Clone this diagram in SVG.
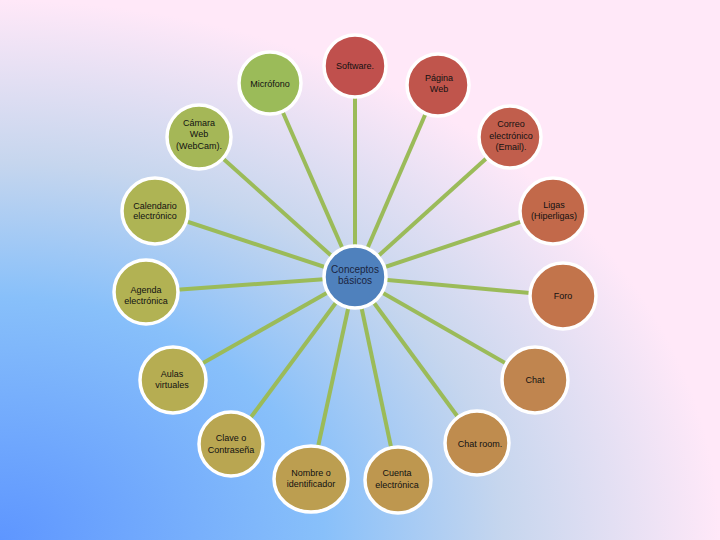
<svg xmlns="http://www.w3.org/2000/svg" width="720" height="540" viewBox="0 0 720 540">
<defs>
<radialGradient id="bg" cx="0" cy="1" r="1" fx="0" fy="1" gradientUnits="objectBoundingBox">
<stop offset="0" stop-color="#5E96FF"/>
<stop offset="0.45" stop-color="#88C0FA"/>
<stop offset="0.7" stop-color="#C6D6EE"/>
<stop offset="1" stop-color="#FFE8F8"/>
</radialGradient>
</defs>
<style>
.n{stroke:#FFFFFF;stroke-width:3.5}
.t{font-family:"Liberation Sans Narrow","Liberation Sans",Arial,sans-serif;font-size:9px;fill:#111;text-anchor:middle}
.c{font-family:"Liberation Sans",Arial,sans-serif;font-size:10px;fill:#1A2440;text-anchor:middle}
.e{stroke:#9BBB59;stroke-width:4;fill:none}
</style>
<rect x="0" y="0" width="720" height="540" fill="url(#bg)"/>
<g id="connectors">
<line class="e" x1="355" y1="277" x2="355" y2="66"/>
<line class="e" x1="355" y1="277" x2="438" y2="85"/>
<line class="e" x1="355" y1="277" x2="510" y2="137"/>
<line class="e" x1="355" y1="277" x2="553" y2="211"/>
<line class="e" x1="355" y1="277" x2="563" y2="296"/>
<line class="e" x1="355" y1="277" x2="535" y2="380"/>
<line class="e" x1="355" y1="277" x2="477" y2="443"/>
<line class="e" x1="355" y1="277" x2="398" y2="480"/>
<line class="e" x1="355" y1="277" x2="311" y2="479"/>
<line class="e" x1="355" y1="277" x2="231" y2="444"/>
<line class="e" x1="355" y1="277" x2="173" y2="380"/>
<line class="e" x1="355" y1="277" x2="146" y2="292"/>
<line class="e" x1="355" y1="277" x2="155" y2="211"/>
<line class="e" x1="355" y1="277" x2="199" y2="137"/>
<line class="e" x1="355" y1="277" x2="270" y2="83"/>
</g>
<g id="n-centro"><circle class="n" cx="355" cy="277" r="31" fill="#4F81BD"/><text class="c" x="355" y="273">Conceptos</text><text class="c" x="355" y="284">básicos</text></g>
<g id="n-software"><circle class="n" cx="355" cy="66" r="31" fill="#C0504D"/><text class="t" x="355" y="69">Software.</text></g>
<g id="n-pagina"><circle class="n" cx="438" cy="85" r="31" fill="#C0554C"/><text class="t" x="439" y="81">Página</text><text class="t" x="439" y="92">Web</text></g>
<g id="n-correo"><circle class="n" cx="510" cy="137" r="31" fill="#C15E4C"/><text class="t" x="511" y="127">Correo</text><text class="t" x="511" y="139">electrónico</text><text class="t" x="511" y="150">(Email).</text></g>
<g id="n-ligas"><circle class="n" cx="553" cy="211" r="33" fill="#C2694A"/><text class="t" x="554" y="208">Ligas</text><text class="t" x="554" y="219">(Hiperligas)</text></g>
<g id="n-foro"><circle class="n" cx="563" cy="296" r="33" fill="#C2744B"/><text class="t" x="563" y="299">Foro</text></g>
<g id="n-chat"><circle class="n" cx="535" cy="380" r="33" fill="#C0854F"/><text class="t" x="535" y="383">Chat</text></g>
<g id="n-chatroom"><circle class="n" cx="477" cy="443" r="32" fill="#BF8C4E"/><text class="t" x="480" y="447">Chat room.</text></g>
<g id="n-cuenta"><circle class="n" cx="398" cy="480" r="33" fill="#BE974F"/><text class="t" x="397" y="476">Cuenta</text><text class="t" x="397" y="488">electrónica</text></g>
<g id="n-nombre"><ellipse class="n" cx="311" cy="479" rx="37" ry="33" fill="#BC9E50"/><text class="t" x="311" y="476">Nombre o</text><text class="t" x="311" y="487">identificador</text></g>
<g id="n-clave"><circle class="n" cx="231" cy="444" r="32" fill="#B9A651"/><text class="t" x="231" y="441">Clave o</text><text class="t" x="231" y="453">Contraseña</text></g>
<g id="n-aulas"><circle class="n" cx="173" cy="380" r="33" fill="#B6AD52"/><text class="t" x="172" y="377">Aulas</text><text class="t" x="172" y="388">virtuales</text></g>
<g id="n-agenda"><circle class="n" cx="146" cy="292" r="32" fill="#B2B253"/><text class="t" x="146" y="293">Agenda</text><text class="t" x="146" y="304">electrónica</text></g>
<g id="n-calendario"><circle class="n" cx="155" cy="211" r="33" fill="#AEB454"/><text class="t" x="155" y="209">Calendario</text><text class="t" x="155" y="219">electrónico</text></g>
<g id="n-camara"><circle class="n" cx="199" cy="137" r="32" fill="#A5B757"/><text class="t" x="199" y="126">Cámara</text><text class="t" x="199" y="137">Web</text><text class="t" x="199" y="149">(WebCam).</text></g>
<g id="n-microfono"><circle class="n" cx="270" cy="83" r="31" fill="#9BBB59"/><text class="t" x="270" y="87">Micrófono</text></g>
</svg>
